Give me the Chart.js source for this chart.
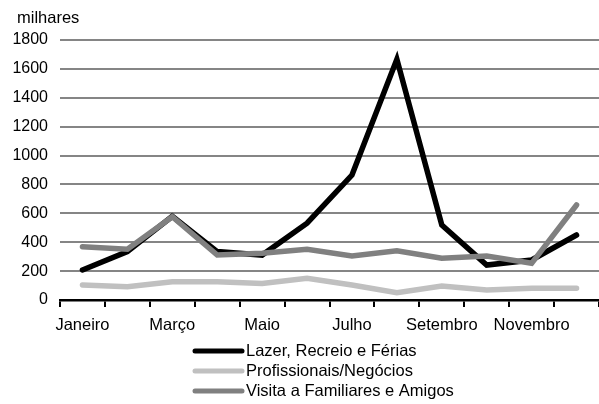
<!DOCTYPE html>
<html>
<head>
<meta charset="utf-8">
<script src="https://cdn.jsdelivr.net/npm/chart.js@4"></script>
<style>
  html, body { margin: 0; padding: 0; background: #fff; }
  #wrap { width: 599px; height: 404px; position: relative; }
</style>
</head>
<body>
<div id="wrap"><canvas id="chart"></canvas></div>
<script>
// ---- Data ----
const months = ["Janeiro", "Fevereiro", "Março", "Abril", "Maio", "Junho",
                "Julho", "Agosto", "Setembro", "Outubro", "Novembro", "Dezembro"];
const lazer = [208, 335, 580, 335, 311, 532, 865, 1666, 519, 242, 277, 450];
const profissionais = [104, 92, 127, 127, 115, 150, 104, 51, 97, 69, 81, 81];
const visita = [369, 351, 577, 311, 323, 351, 305, 341, 289, 305, 254, 658];
const yTicks = [0, 200, 400, 600, 800, 1000, 1200, 1400, 1600, 1800];
const unitLabel = "milhares";

const FONT = "'Liberation Sans', Arial, sans-serif";

// small plugin: unit label top-left + vertical legend under the axis
const extras = {
  id: "extras",
  afterDraw(chart) {
    const ctx = chart.ctx;
    ctx.save();
    ctx.fillStyle = "#000";
    ctx.font = "16.5px " + FONT;
    ctx.textBaseline = "middle";
    ctx.textAlign = "left";
    ctx.fillText(unitLabel, 17, 18);

    chart.data.datasets.forEach((ds, i) => {
      const y = 351 + i * 20;
      ctx.strokeStyle = ds.borderColor;
      ctx.lineWidth = 5;
      ctx.lineCap = "round";
      ctx.beginPath();
      ctx.moveTo(195, y);
      ctx.lineTo(242, y);
      ctx.stroke();
      ctx.fillStyle = "#000";
      ctx.fillText(ds.label, 246, y);
    });
    ctx.restore();
  }
};

function line(label, data, color, order) {
  return {
    label, data, order,
    borderColor: color,
    backgroundColor: color,
    borderWidth: 5.5,
    borderCapStyle: "round",
    pointRadius: 0,
    tension: 0,
    fill: false
  };
}

new Chart(document.getElementById("chart"), {
  type: "line",
  data: {
    labels: months,
    datasets: [
      line("Lazer, Recreio e Férias", lazer, "#000000", 1),
      line("Profissionais/Negócios", profissionais, "#c0c0c0", 2),
      line("Visita a Familiares e Amigos", visita, "#808080", 0)
    ]
  },
  options: {
    responsive: true,
    maintainAspectRatio: false,
    animation: false,
    layout: { padding: { top: 40, right: 0, bottom: 64, left: 0 } },
    plugins: { legend: { display: false }, tooltip: { enabled: false } },
    scales: {
      x: {
        offset: true,
        afterFit: s => { s.height = 40; },
        grid: { drawOnChartArea: false, offset: true, color: "#000", lineWidth: 2, tickLength: 7 },
        border: { color: "#000", width: 2.5 },
        ticks: {
          autoSkip: false, maxRotation: 0, padding: 9, color: "#000",
          font: { family: FONT, size: 16.5 },
          callback: (v, i) => (i % 2 === 0 ? months[i] : "")
        }
      },
      y: {
        min: 0, max: 1800,
        afterFit: s => { s.width = 60; },
        afterBuildTicks: s => { s.ticks = yTicks.map(v => ({ value: v })); },
        grid: { drawTicks: false, color: "#858585", lineWidth: 2 },
        border: { display: false },
        ticks: {
          padding: 12, color: "#000", font: { family: FONT, size: 16 },
          callback: v => String(v)
        }
      }
    }
  },
  plugins: [extras]
});
</script>
</body>
</html>
